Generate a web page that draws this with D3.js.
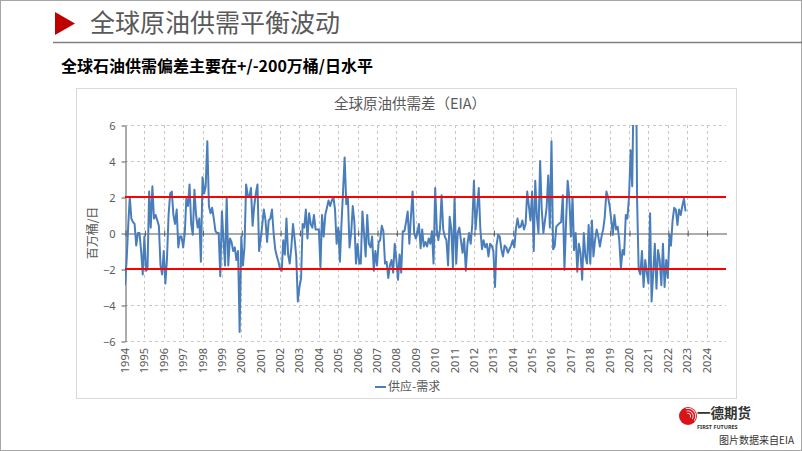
<!DOCTYPE html>
<html lang="zh-CN">
<head>
<meta charset="UTF-8">
<title>全球原油供需平衡波动</title>
<style>
  body { margin: 0; background: #fff; }
  svg { display: block; font-family: "Noto Sans CJK SC", "Noto Sans", sans-serif; }
</style>
</head>
<body>
<script src="https://cdn.jsdelivr.net/npm/d3@7"></script>
<script>
// 供应-需求（百万桶/日），月度，1994年1月起
const gap1994to2001 = [
  -2.9, -1.5, 0.3, 2.0, 0.8, 0.6, 0.5, -0.7, 0.0, 0.0, -1.0, -2.3,
  -0.2, -2.1, -2.0, 2.3, 0.3, 2.6, 0.8, 1.0, 0.7, 0.4, -1.8, -2.3,
  -1.0, -2.8, -1.5, 1.0, 2.2, 2.3, 1.0, 0.5, 1.3, -0.8, -0.2, -0.2,
  -0.8, 0.0, 1.9, 1.5, 2.7, 0.5, -0.1, 2.4, 1.0, 0.3, 0.8, -1.6,
  3.1, 2.2, 2.6, 5.1, 1.5, 1.1, 1.4, 0.8, 0.1, 0.0, 0.0, -2.4,
  1.2, -0.5, -1.8, 2.0, -1.8, -0.3, -0.5, -1.0, -0.8, -1.5, -1.0, -5.5,
  -0.2, -1.8, -0.8, 2.7, 2.1, 2.0, 2.5, 0.4, 1.5, 2.2, 2.7, -1.0,
  -0.3, 0.5, 1.3, 0.7, -0.5, 0.7, 0.8, 1.3, 0.0, -0.9, -1.3, -1.6
];
const gap2002to2009 = [
  -2.0, -2.1, -0.4, -1.2, 0.8, -1.2, -1.7, -0.8, 0.5, -0.3, -1.3, -3.8,
  -3.0, -2.5, 0.5, 0.3, 1.3, -0.3, 1.1, 0.5, 0.3, 1.0, 0.2, 0.2,
  0.2, -1.9, 1.0, -0.2, 1.0, 1.4, 1.8, 1.5, 1.8, 2.0, 1.3, -0.6,
  0.3, -1.6, 0.4, 2.3, 4.2, 1.6, 2.0, -0.8, 0.0, 1.5, 0.6, -1.7,
  -0.6, -1.7, -1.7, 1.2, 0.0, -1.3, 1.0, -0.6, -0.8, -0.2, -2.1, -1.0,
  -1.8, -0.5, -0.4, 0.4, 0.1, -1.7, -1.6, -2.5, -1.8, -1.5, -2.2, -0.6,
  -1.5, -2.6, -1.2, -2.2, 0.1, 0.1, 0.6, 1.2, -0.6, 0.9, 2.3, 0.0,
  -0.3, 0.0, 0.5, -0.85, 0.2, -0.75, -0.5, -0.75, -0.3, -0.6, 0.1, -1.7
];
const gap2010to2016 = [
  2.5, 0.2, -0.4, 0.2, 2.1, 0.2, -0.2, -0.4, -1.8, 0.9, 0.2, -1.9,
  2.0, -1.7, 0.0, 0.3, -0.4, -1.1, -0.3, -2.1, -0.6, 0.0, -0.6, 0.5,
  2.9, 0.2, 1.3, 2.5, 0.2, -0.9, -0.4, -0.8, -0.6, -1.3, -0.6, -0.7,
  -1.0, -3.0, -0.7, -0.1, -0.2, -0.9, -1.3, -0.7, -0.8, -1.1, -0.9, -0.7,
  -0.4, -0.8, 0.2, 0.8, 0.3, 0.35, 0.7, 0.2, 0.5, 2.3, 1.5, 0.7,
  2.3, -1.0, 2.9, 0.9, 0.0, 4.0, 1.3, 0.0, 0.7, 1.4, 3.2, 0.3,
  5.1, -0.9, -0.75, 0.35, 0.45, 0.55, 0.6, 2.1, -2.05, 0.55, 2.9, 2.0
];
const gap2017to2022 = [
  -0.2, 2.0, -0.95, 0.0, -2.15, -0.6, -1.1, -2.6, 0.0, -1.3, -1.7, 0.45,
  -1.7, 0.7, -1.3, -0.4, 0.2, -0.2, -0.75, -0.2, 0.2, 0.9, 2.3, 2.0,
  1.5, 0.7, -0.1, 1.0, 0.2, 0.35, -0.4, -1.95, -0.95, -1.2, 1.0, 0.8,
  2.0, 4.6, 2.6, 9.0, 14.0, 1.8, -2.05, -2.3, -1.0, -3.0, -1.5, -2.2,
  -2.8, 1.1, -3.8, -2.2, -0.6, -3.1, -0.95, -1.5, -2.9, -0.6, -3.0, -1.5,
  -2.5, -0.1, -0.7, 0.7, 1.4, 1.3, 0.45, 1.3, 1.0, 1.5, 1.9, 1.2
];
const startYear = 1994;
const yearLabels = d3.range(1994, 2025);
const yTicks = [-6, -4, -2, 0, 2, 4, 6];
const bandLevels = [2, -2];

const series = [].concat(gap1994to2001, gap2002to2009, gap2010to2016, gap2017to2022)
  .map((v, i) => ({ date: new Date(startYear, i, 1), value: v }));

const width = 802, height = 451;
const svg = d3.select('body').append('svg')
  .attr('width', width)
  .attr('height', height);

// 页面外框
svg.append('rect')
  .attr('x', 0.5).attr('y', 0.5)
  .attr('width', width - 1).attr('height', height - 1)
  .attr('fill', '#fff').attr('stroke', '#a6a6a6');

// 标题区
svg.append('path').attr('d', 'M55,12 L75,23.5 L55,35 Z').attr('fill', '#c00000');
svg.append('text').attr('x', 90).attr('y', 32)
  .attr('font-size', 25).attr('fill', '#595959')
  .text('全球原油供需平衡波动');
svg.append('line')
  .attr('x1', 53).attr('x2', width).attr('y1', 42.5).attr('y2', 42.5)
  .attr('stroke', '#7f7f7f').attr('stroke-width', 1.5);
svg.append('text').attr('x', 61).attr('y', 72)
  .attr('font-size', 16).attr('font-weight', 'bold').attr('fill', '#000')
  .text('全球石油供需偏差主要在+/-200万桶/日水平');

// 图表框
svg.append('rect')
  .attr('x', 76.5).attr('y', 88.5).attr('width', 660).attr('height', 310)
  .attr('fill', '#fff').attr('stroke', '#d9d9d9');

svg.append('text').attr('x', 334).attr('y', 109)
  .attr('font-size', 14.5).attr('fill', '#595959')
  .text('全球原油供需差（EIA）');

const x = d3.scaleTime()
  .domain([new Date(1994, 0, 1), new Date(2025, 0, 1)])
  .range([125, 726]);
const y = d3.scaleLinear().domain([-6, 6]).range([341, 125]);

// 网格线
svg.append('g').selectAll('line')
  .data(yTicks.filter(d => d !== 0))
  .join('line')
  .attr('x1', 125).attr('x2', 726)
  .attr('y1', d => y(d) + 0.5).attr('y2', d => y(d) + 0.5)
  .attr('stroke', '#c8c8c8').attr('stroke-dasharray', '3,3');
svg.append('g').selectAll('line')
  .data(yearLabels.slice(1))
  .join('line')
  .attr('x1', d => Math.round(x(new Date(d, 0, 1))) + 0.5)
  .attr('x2', d => Math.round(x(new Date(d, 0, 1))) + 0.5)
  .attr('y1', 125).attr('y2', 341)
  .attr('stroke', '#c8c8c8').attr('stroke-dasharray', '3,3');

// 纵轴
const yAxis = svg.append('g')
  .attr('transform', 'translate(125.5,0.5)')
  .call(d3.axisLeft(y).tickValues(yTicks).tickSize(4).tickSizeOuter(0).tickPadding(6));
yAxis.select('.domain').attr('stroke', '#595959');
yAxis.selectAll('.tick line').attr('stroke', '#595959');
yAxis.selectAll('text').attr('font-size', 11).attr('fill', '#595959')
  .attr('font-family', '"Noto Sans", sans-serif');

svg.append('text')
  .attr('transform', 'translate(97,233) rotate(-90)')
  .attr('text-anchor', 'middle')
  .attr('font-size', 12).attr('fill', '#595959')
  .text('百万桶/日');

// 零线（横轴）
const xAxis = svg.append('g')
  .attr('transform', `translate(0.5,${y(0) + 0.5})`)
  .call(d3.axisBottom(x)
    .tickValues(yearLabels.map(d => new Date(d, 0, 1)))
    .tickSize(3).tickSizeOuter(0).tickFormat(''));
xAxis.select('.domain').attr('stroke', '#595959');
xAxis.selectAll('.tick line').attr('stroke', '#595959').attr('y1', -3);

svg.append('g').selectAll('text')
  .data(yearLabels)
  .join('text')
  .attr('transform', d => `translate(${x(new Date(d, 0, 1)) + 4},348) rotate(-90)`)
  .attr('text-anchor', 'end')
  .attr('font-size', 11).attr('fill', '#595959')
  .attr('font-family', '"Noto Sans", sans-serif')
  .text(d => d);

// 数据线
svg.append('clipPath').attr('id', 'plot-clip')
  .append('rect').attr('x', 125).attr('y', 125).attr('width', 601).attr('height', 216);

svg.append('path')
  .datum(series)
  .attr('clip-path', 'url(#plot-clip)')
  .attr('fill', 'none')
  .attr('stroke', '#4a7ebb')
  .attr('stroke-width', 2)
  .attr('stroke-linejoin', 'round')
  .attr('d', d3.line().x(d => x(d.date)).y(d => y(d.value)));

// ±2 红线
svg.append('g').selectAll('line')
  .data(bandLevels)
  .join('line')
  .attr('x1', 125).attr('x2', 726)
  .attr('y1', d => y(d)).attr('y2', d => y(d))
  .attr('stroke', '#ff0000').attr('stroke-width', 2);

// 图例
svg.append('line')
  .attr('x1', 375).attr('x2', 386).attr('y1', 387).attr('y2', 387)
  .attr('stroke', '#4a7ebb').attr('stroke-width', 2);
svg.append('text').attr('x', 388).attr('y', 391)
  .attr('font-size', 12).attr('fill', '#595959')
  .text('供应-需求');

// 标志
const logo = svg.append('g').attr('transform', 'translate(688,416)');
logo.append('circle').attr('r', 9).attr('fill', '#d7141a');
[3, 5.5, 8].forEach(r => {
  logo.append('path')
    .attr('d', d3.arc()({ innerRadius: r - 0.8, outerRadius: r, startAngle: -0.3, endAngle: 2.2 }))
    .attr('fill', '#fff');
});
svg.append('text').attr('x', 697).attr('y', 418)
  .attr('font-size', 13.5).attr('font-weight', 'bold').attr('fill', '#333')
  .text('一德期货');
svg.append('text').attr('x', 697).attr('y', 429)
  .attr('font-size', 5.5).attr('font-weight', 'bold').attr('fill', '#333')
  .attr('font-family', '"Noto Sans", sans-serif')
  .text('FIRST FUTURES');
svg.append('text').attr('x', 794).attr('y', 444)
  .attr('text-anchor', 'end')
  .attr('font-size', 10).attr('fill', '#333')
  .text('图片数据来自EIA');
</script>
</body>
</html>
